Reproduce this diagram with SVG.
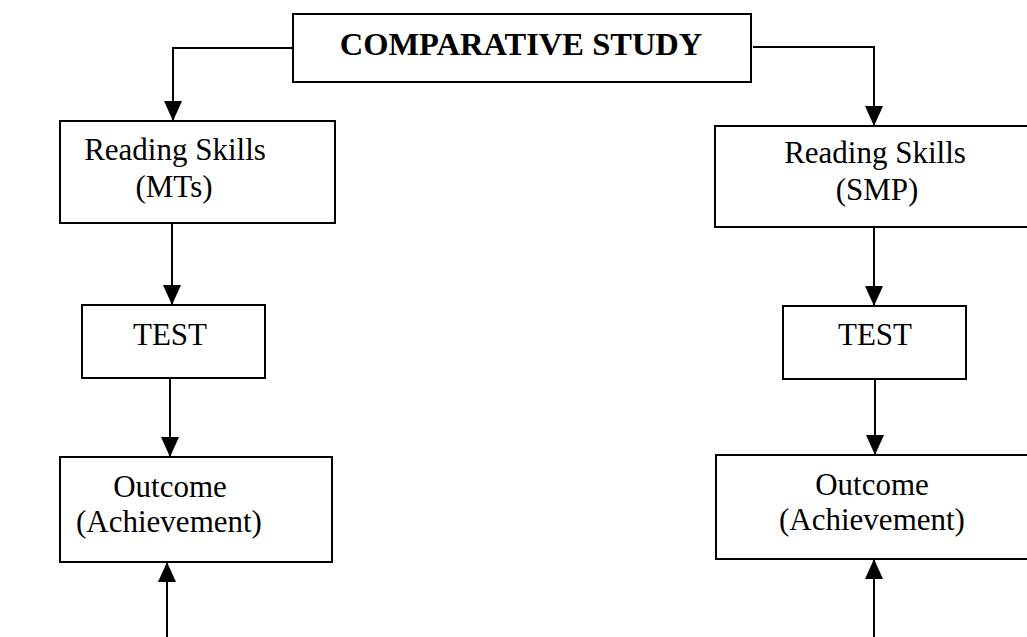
<svg xmlns="http://www.w3.org/2000/svg" width="1027" height="637" viewBox="0 0 1027 637">
<defs>
<marker id="arr" markerUnits="userSpaceOnUse" markerWidth="20" markerHeight="18" viewBox="0 0 20 18" refX="20" refY="9" orient="auto">
<path d="M0,0 L20,9 L0,18 z" fill="#000"/>
</marker>
<style>
.box{fill:#fff;stroke:#000;stroke-width:2}
.t{font-family:"Liberation Serif","Times New Roman",serif;font-size:31px;fill:#000;text-anchor:middle}
.b{font-weight:bold;font-size:32.5px}
.c{fill:none;stroke:#000;stroke-width:2}
</style>
</defs>
<rect width="1027" height="637" fill="#fff"/>
<g id="connectors">
<polyline class="c" points="293,48 173,48 173,121" marker-end="url(#arr)"/>
<polyline class="c" points="753,47 874,47 874,126" marker-end="url(#arr)"/>
<line class="c" x1="172" y1="223" x2="172" y2="305" marker-end="url(#arr)"/>
<line class="c" x1="170" y1="378" x2="170" y2="457" marker-end="url(#arr)"/>
<line class="c" x1="167" y1="637" x2="167" y2="562" marker-end="url(#arr)"/>
<line class="c" x1="874" y1="227" x2="874" y2="306" marker-end="url(#arr)"/>
<line class="c" x1="875" y1="379" x2="875" y2="455" marker-end="url(#arr)"/>
<line class="c" x1="874" y1="637" x2="874" y2="559" marker-end="url(#arr)"/>
</g>
<g id="comparative-study">
<rect class="box" x="293" y="14" width="458" height="68"/>
<text class="t b" x="521" y="55">COMPARATIVE STUDY</text>
</g>
<g id="reading-mts">
<rect class="box" x="60" y="121" width="275" height="102"/>
<text class="t" x="175" y="160">Reading Skills</text>
<text class="t" x="174" y="197">(MTs)</text>
</g>
<g id="test-left">
<rect class="box" x="82" y="305" width="183" height="73"/>
<text class="t" x="170" y="345">TEST</text>
</g>
<g id="outcome-left">
<rect class="box" x="60" y="457" width="272" height="105"/>
<text class="t" x="170" y="497">Outcome</text>
<text class="t" x="169" y="532">(Achievement)</text>
</g>
<g id="reading-smp">
<rect class="box" x="715" y="126" width="330" height="101"/>
<text class="t" x="875" y="163">Reading Skills</text>
<text class="t" x="877" y="200">(SMP)</text>
</g>
<g id="test-right">
<rect class="box" x="783" y="306" width="183" height="73"/>
<text class="t" x="875" y="345">TEST</text>
</g>
<g id="outcome-right">
<rect class="box" x="716" y="455" width="330" height="104"/>
<text class="t" x="872" y="495">Outcome</text>
<text class="t" x="872" y="530">(Achievement)</text>
</g>
</svg>
